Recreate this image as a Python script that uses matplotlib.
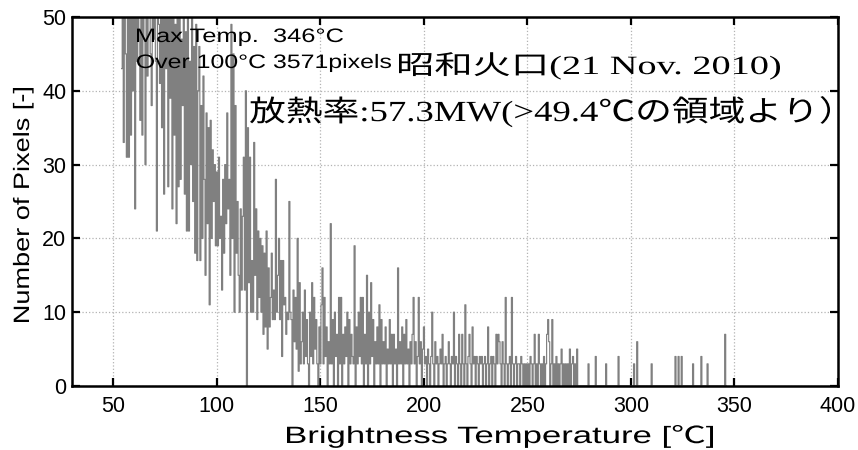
"""Brightness temperature histogram, Showa crater (21 Nov. 2010)."""

import numpy as np
import matplotlib
matplotlib.use('Agg')
import matplotlib.pyplot as plt
from matplotlib.font_manager import FontProperties
from matplotlib.patches import PathPatch
from matplotlib.textpath import TextPath
from matplotlib.transforms import Affine2D

W, H, DPI = 858, 450, 100

# pixel counts per 0.5 degC bin, starting at 54.0 degC (one row = 10 degC)
T_START = 54.0
T_STEP = 0.5
counts_dense = [
    43, 56, 33, 58, 45, 31, 60, 31, 55, 34, 62, 40,
    57, 24, 58, 44, 53, 48, 36, 59, 34, 55, 47, 30, 61, 42, 52, 57, 45, 38, 60, 47,
    54, 44, 21, 56, 49, 41, 58, 35, 52, 26, 55, 43, 50, 27, 57, 39, 53, 24, 51, 34,
    49, 22, 54, 27, 50, 28, 47, 38, 52, 26, 48, 21, 51, 21, 44, 30, 50, 25, 46, 18,
    49, 17, 40, 46, 17, 38, 20, 42, 28, 15, 37, 22, 35, 11, 36, 20, 32, 25, 30, 19,
    29, 19, 31, 20, 23, 13, 28, 18, 30, 22, 37, 24, 28, 15, 49, 20, 45, 10, 38, 18,
    25, 15, 10, 24, 13, 23, 31, 13, 40, 0, 35, 14, 31, 10, 17, 10, 33, 15, 24, 9,
    21, 12, 20, 10, 19, 7, 18, 8, 21, 5, 16, 8, 12, 18, 9, 13, 9, 28, 10, 15,
    20, 9, 17, 4, 17, 11, 12, 7, 10, 9, 25, 10, 9, 0, 13, 6, 12, 5, 20, 2,
    14, 3, 6, 10, 3, 13, 4, 9, 3, 0, 10, 4, 14, 3, 12, 5, 9, 3, 0, 8,
    3, 11, 16, 3, 12, 4, 8, 0, 6, 3, 22, 3, 9, 0, 10, 4, 7, 0, 12, 3,
    12, 0, 7, 3, 8, 4, 10, 0, 9, 3, 7, 4, 3, 19, 0, 8, 3, 10, 4, 12,
    3, 12, 0, 7, 3, 15, 0, 10, 3, 14, 4, 9, 0, 6, 3, 8, 3, 11, 0, 9,
    3, 6, 3, 8, 0, 5, 3, 9, 3, 7, 0, 7, 3, 5, 0, 16, 3, 6, 3, 8,
    0, 7, 3, 9, 3, 5, 0, 6, 3, 7, 12, 3, 6, 0, 4, 12, 3, 6, 0, 5,
    8, 3, 4, 0, 5, 3, 0, 4, 10, 3, 0, 6, 3, 4, 0, 3, 5, 3, 7, 0,
    3, 4, 0, 3, 6, 3, 0, 4, 3, 10, 0, 4, 3, 0, 7, 3, 0, 7, 3, 0,
    11, 3, 0, 4, 7, 3, 0, 8, 3, 4, 0, 4, 3, 0, 4, 3, 4, 0, 3, 4,
    0, 3, 8, 0, 3, 4, 0, 4, 3, 0, 7, 3, 7, 6, 3, 0, 6, 3, 0, 12,
    3, 0, 3, 4, 0, 12, 3, 0, 3, 4, 0, 3, 3, 0, 4, 3, 0, 3, 0, 3,
    0, 3, 0, 4, 3, 0, 3, 7, 0, 3, 0, 7, 3, 0, 3, 0, 4, 0, 3, 7,
    9, 6, 0, 3, 9, 0, 3, 0, 4, 0, 3, 0, 3, 5, 0, 3, 0, 3, 0, 3,
    0, 5, 0, 3, 4, 0, 3, 0, 5, 0,
]
T_MAX = 346.0

# isolated bins in the sparse hot tail
tail_temp = [279.5, 283.0, 288.0, 294.0, 301.5, 303.0, 310.0,
             321.5, 323.0, 324.5, 330.0, 334.0, 337.0, 345.5]
tail_count = [3, 4, 3, 4, 3, 6, 3, 4, 4, 4, 3, 4, 3, 7]

x_ticks = [50, 100, 150, 200, 250, 300, 350, 400]
y_ticks = [0, 10, 20, 30, 40, 50]

SANS = ['Liberation Sans', 'Noto Sans CJK JP']
SERIF = ['Liberation Serif', 'Noto Sans CJK JP']


def stretched(fig, s, x, y, size, width=None, family=SANS, rot=0):
    """Draw s as a path, baseline-left at pixel (x, y from top), scaled to width px."""
    path = TextPath((0, 0), s, size=size, prop=FontProperties(family=family))
    k = fig.dpi / 72.0
    ext = path.get_extents()
    sx = 1.0 if width is None else width / (ext.width * k)
    tr = (Affine2D().translate(-ext.x0, 0).scale(k * sx, k)
          .rotate_deg(rot).translate(x, H - y))
    fig.add_artist(PathPatch(path, transform=tr, fc='black', ec='none'))


temp = np.arange(T_START, T_MAX + T_STEP / 2, T_STEP)
count = np.zeros_like(temp)
count[:len(counts_dense)] = counts_dense
for t, n in zip(tail_temp, tail_count):
    count[int(round((t - T_START) / T_STEP))] = n

fig = plt.figure(figsize=(W / DPI, H / DPI), dpi=DPI)
ax = fig.add_axes([72 / W, 1 - 386 / H, (838 - 72) / W, (386 - 17) / H])

ax.plot(temp, count, drawstyle='steps-mid', color='0.5', lw=0.85)

ax.set_xlim(30, 400)
ax.set_ylim(0, 50)
ax.set_xticks(x_ticks)
ax.set_yticks(y_ticks)
ax.grid(True, color='0.7', ls=':', lw=0.9)
ax.tick_params(direction='in', length=6, width=1.6, top=True, right=True,
               labelsize=15.5)
ax.tick_params(axis='x', pad=7)
ax.tick_params(axis='y', pad=4)
for lab in ax.get_xticklabels() + ax.get_yticklabels():
    lab.set_family(SANS)
for sp in ax.spines.values():
    sp.set_linewidth(1.8)

# axis labels (wide gothic lettering in the original)
stretched(fig, 'Brightness Temperature [℃]', 287, 443, 17, width=426)
stretched(fig, 'Number of Pixels [-]', 29, 322, 16, width=234, rot=90)

# annotations
stretched(fig, 'Max Temp.  346°C', 137, 42, 14, width=206)
stretched(fig, 'Over 100°C 3571pixels', 137, 68, 14, width=254)
stretched(fig, '昭和火口(21 Nov. 2010)', 399, 74, 19, width=381, family=SERIF)
stretched(fig, '放熱率:57.3MW(>49.4℃の領域より）', 250, 121, 21, width=580,
          family=SERIF)

fig.savefig('out.png', dpi=DPI)
